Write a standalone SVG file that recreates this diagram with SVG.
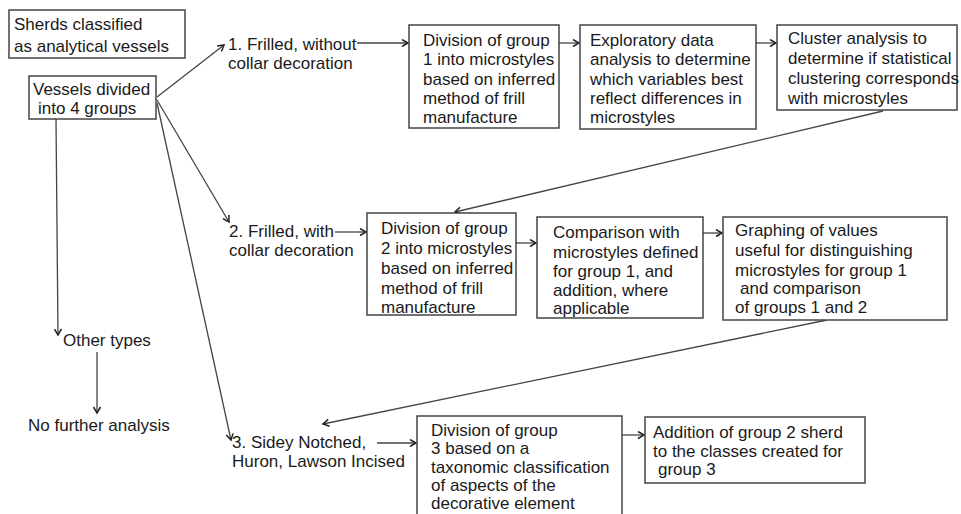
<svg xmlns="http://www.w3.org/2000/svg" width="961" height="514" viewBox="0 0 961 514">
<defs>
<marker id="ah" markerWidth="10" markerHeight="10" refX="7" refY="4" orient="auto" markerUnits="userSpaceOnUse">
<path d="M1,0.5 L7,4 L1,7.5" fill="none" stroke="#222" stroke-width="1.5"/>
</marker>
<style>
text{font-family:"Liberation Sans",Arial,sans-serif;font-size:17px;fill:#1a1a1a}
.box{fill:#fff;stroke:#444;stroke-width:1.5}
.c{fill:none;stroke:#444;stroke-width:1.3;marker-end:url(#ah)}
</style>
</defs>
<rect width="961" height="514" fill="#fff"/>
<g id="connectors">
<line class="c" x1="157" y1="97" x2="224" y2="45"/>
<line class="c" x1="357" y1="43" x2="408" y2="43"/>
<line class="c" x1="559" y1="43" x2="579" y2="43"/>
<line class="c" x1="756" y1="43" x2="776" y2="43"/>
<line class="c" x1="883" y1="111" x2="455" y2="212"/>
<line class="c" x1="157" y1="100" x2="229" y2="222"/>
<line class="c" x1="335" y1="232" x2="366" y2="232"/>
<line class="c" x1="516" y1="243" x2="536" y2="243"/>
<line class="c" x1="703" y1="233" x2="722" y2="233"/>
<line class="c" x1="827" y1="320" x2="323" y2="424"/>
<line class="c" x1="157" y1="103" x2="231" y2="440"/>
<line class="c" x1="377" y1="443" x2="416" y2="443"/>
<line class="c" x1="622" y1="435" x2="644" y2="435"/>
<line class="c" x1="56" y1="119" x2="58" y2="335"/>
<line class="c" x1="97" y1="352" x2="97" y2="413"/>
</g>
<g id="sherds">
<rect class="box" x="9" y="10" width="176" height="48"/>
<text x="14" y="30">Sherds classified</text>
<text x="14" y="52">as analytical vessels</text>
</g>
<g id="vessels">
<rect class="box" x="29" y="76" width="127" height="43"/>
<text x="33" y="95">Vessels divided</text>
<text x="38" y="114">into 4 groups</text>
</g>
<g id="group1">
<text x="228" y="50">1. Frilled, without</text>
<text x="228" y="69">collar decoration</text>
</g>
<g id="div1">
<rect class="box" x="409" y="25" width="150" height="103"/>
<text x="423" y="46">Division of group</text>
<text x="423" y="65">1 into microstyles</text>
<text x="423" y="85">based on inferred</text>
<text x="423" y="104">method of frill</text>
<text x="423" y="123">manufacture</text>
</g>
<g id="explore">
<rect class="box" x="580" y="25" width="176" height="104"/>
<text x="590" y="46">Exploratory data</text>
<text x="590" y="65">analysis to determine</text>
<text x="590" y="85">which variables best</text>
<text x="590" y="104">reflect differences in</text>
<text x="590" y="123">microstyles</text>
</g>
<g id="cluster">
<rect class="box" x="777" y="25" width="180" height="85"/>
<text x="788" y="44">Cluster analysis to</text>
<text x="788" y="64">determine if statistical</text>
<text x="788" y="84">clustering corresponds</text>
<text x="788" y="104">with microstyles</text>
</g>
<g id="group2">
<text x="229" y="237">2. Frilled, with</text>
<text x="229" y="256">collar decoration</text>
</g>
<g id="div2">
<rect class="box" x="367" y="213" width="149" height="102"/>
<text x="381" y="234">Division of group</text>
<text x="381" y="254">2 into microstyles</text>
<text x="381" y="274">based on inferred</text>
<text x="381" y="294">method of frill</text>
<text x="381" y="313">manufacture</text>
</g>
<g id="compare">
<rect class="box" x="537" y="217" width="166" height="101"/>
<text x="553" y="238">Comparison with</text>
<text x="553" y="258">microstyles defined</text>
<text x="553" y="277">for group 1, and</text>
<text x="553" y="296">addition, where</text>
<text x="553" y="314">applicable</text>
</g>
<g id="graphing">
<rect class="box" x="723" y="217" width="224" height="103"/>
<text x="735" y="236">Graphing of values</text>
<text x="735" y="256">useful for distinguishing</text>
<text x="735" y="276">microstyles for group 1</text>
<text x="740" y="294">and comparison</text>
<text x="735" y="313">of groups 1 and 2</text>
</g>
<g id="other">
<text x="63" y="346">Other types</text>
</g>
<g id="nofurther">
<text x="28" y="431">No further analysis</text>
</g>
<g id="group3">
<text x="232" y="448">3. Sidey Notched,</text>
<text x="232" y="467">Huron, Lawson Incised</text>
</g>
<g id="div3">
<rect class="box" x="417" y="416" width="205" height="110"/>
<text x="431" y="436">Division of group</text>
<text x="431" y="454">3 based on a</text>
<text x="431" y="473">taxonomic classification</text>
<text x="431" y="491">of aspects of the</text>
<text x="431" y="509">decorative element</text>
</g>
<g id="addition">
<rect class="box" x="645" y="417" width="220" height="66"/>
<text x="653" y="438">Addition of group 2 sherd</text>
<text x="653" y="457">to the classes created for</text>
<text x="658" y="475">group 3</text>
</g>
</svg>
